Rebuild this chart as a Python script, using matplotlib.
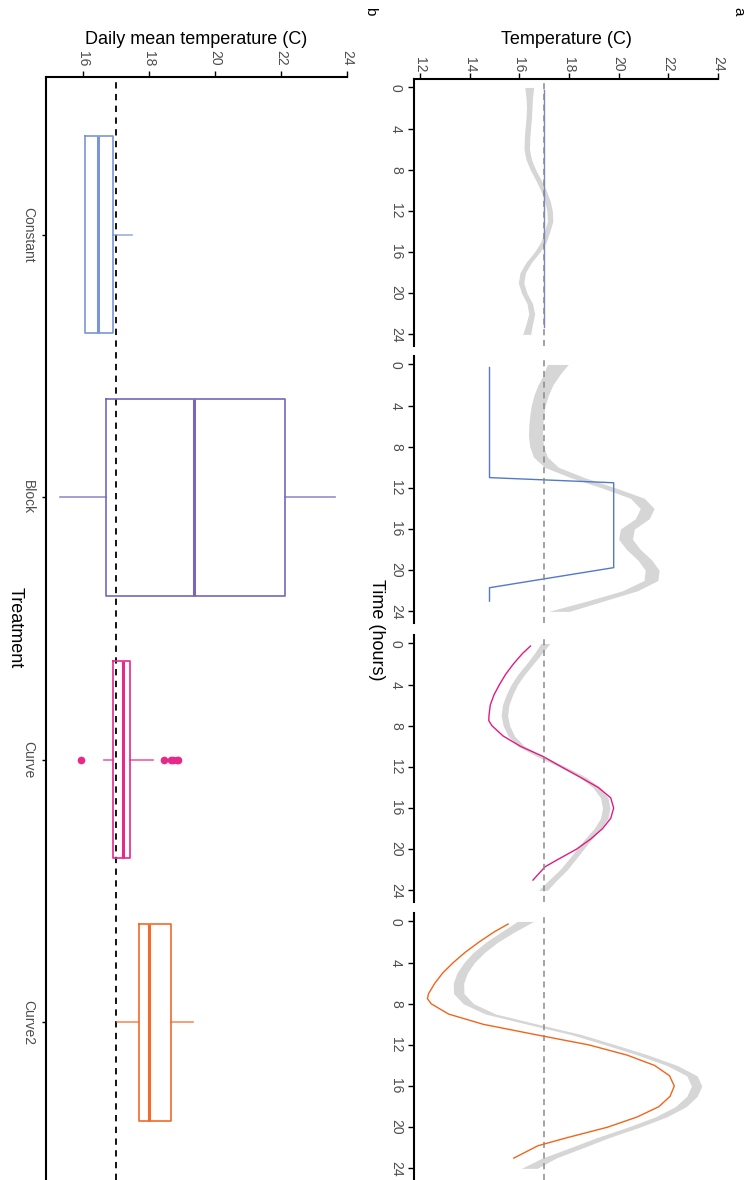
import numpy as np
import matplotlib
matplotlib.use("Agg")
import matplotlib.pyplot as plt

plt.rcParams['font.family'] = ['Liberation Sans', 'DejaVu Sans']

# ---- panel a : hourly temperature profiles ----
hours = [0, 1, 2, 3, 4, 5, 6, 7, 8, 9, 10, 11, 12, 13, 14, 15, 16, 17, 18, 19, 20, 21, 22, 23, 24]

# grey ribbons (observed stream temperature), lower / upper edge
const_lo = [16.22, 16.27, 16.29, 16.27, 16.23, 16.20, 16.19, 16.27, 16.44, 16.66, 16.86, 17.02, 17.11,
            17.13, 17.01, 16.87, 16.61, 16.27, 16.03, 15.96, 16.09, 16.31, 16.38, 16.27, 16.14]
const_hi = [16.58, 16.53, 16.51, 16.49, 16.45, 16.42, 16.41, 16.49, 16.66, 16.88, 17.08, 17.24, 17.33,
            17.35, 17.23, 17.09, 16.83, 16.49, 16.25, 16.18, 16.31, 16.53, 16.62, 16.53, 16.46]
block_lo = [17.13, 16.97, 16.75, 16.59, 16.48, 16.42, 16.38, 16.37, 16.42, 16.57, 17.02, 18.07, 19.32,
            20.47, 20.87, 20.67, 20.07, 20.00, 20.32, 20.77, 21.07, 21.02, 20.15, 18.72, 17.18]
block_hi = [17.97, 17.63, 17.35, 17.17, 17.04, 16.98, 16.94, 16.93, 16.98, 17.13, 17.58, 18.63, 19.88,
            21.03, 21.43, 21.23, 20.63, 20.56, 20.88, 21.33, 21.63, 21.58, 20.75, 19.38, 18.02]
curve_lo = [16.87, 16.60, 16.28, 15.94, 15.67, 15.47, 15.32, 15.27, 15.35, 15.55, 15.95, 16.72, 17.62,
            18.42, 18.96, 19.27, 19.35, 19.27, 19.01, 18.64, 18.31, 17.98, 17.63, 17.19, 16.77]
curve_hi = [17.23, 16.90, 16.56, 16.22, 15.93, 15.73, 15.58, 15.53, 15.61, 15.81, 16.21, 16.98, 17.88,
            18.68, 19.24, 19.57, 19.65, 19.57, 19.29, 18.92, 18.59, 18.26, 17.93, 17.51, 17.13]
curve2_lo = [15.92, 15.28, 14.66, 14.15, 13.77, 13.49, 13.34, 13.35, 13.74, 14.64, 16.34, 18.09, 19.47,
             20.79, 21.94, 22.74, 22.93, 22.74, 22.28, 21.47, 20.36, 19.13, 18.04, 16.92, 16.08]
curve2_hi = [16.58, 15.82, 15.14, 14.61, 14.19, 13.91, 13.76, 13.77, 14.16, 15.06, 16.76, 18.51, 19.89,
             21.21, 22.36, 23.16, 23.35, 23.16, 22.72, 21.93, 20.84, 19.63, 18.56, 17.48, 16.72]

# treatment set-points
const_t = [0.25, 23.3]
const_v = [17.0, 17.0]
block_t = [0.3, 11.0, 11.5, 19.75, 21.7, 23.0]
block_v = [14.8, 14.8, 19.8, 19.8, 14.8, 14.8]
curve_t = [0.25, 1, 2, 3, 4, 5, 6, 7, 7.5, 8, 9, 10, 11, 12, 13, 14, 15, 16, 17, 18, 19, 20, 21, 21.7, 23]
curve_v = [16.45, 16.12, 15.76, 15.45, 15.20, 14.98, 14.83, 14.78, 14.77, 14.90, 15.35, 16.05, 16.97,
           17.70, 18.45, 19.18, 19.68, 19.80, 19.68, 19.35, 18.88, 18.30, 17.55, 17.04, 16.55]
curve2_t = [0.25, 1, 2, 3, 4, 5, 6, 7, 7.5, 8, 9, 10, 11, 12, 13, 14, 15, 16, 17, 18, 19, 20, 21, 21.8, 23]
curve2_v = [15.55, 15.00, 14.38, 13.82, 13.34, 12.92, 12.60, 12.35, 12.30, 12.45, 13.15, 14.55, 16.65,
            18.80, 20.35, 21.45, 22.05, 22.24, 22.07, 21.62, 20.75, 19.55, 17.95, 16.75, 15.78]

target = 17.0

# ---- panel b : daily mean temperature by treatment ----
treatments = ["Constant", "Block", "Curve", "Curve2"]
q1 = [16.05, 16.69, 16.91, 17.70]
med = [16.44, 19.35, 17.21, 18.00]
q3 = [16.91, 22.13, 17.43, 18.67]
whislo = [16.05, 15.29, 16.63, 17.01]
whishi = [17.49, 23.64, 18.13, 19.32]
fliers = [[], [], [15.92, 18.46, 18.66, 18.73, 18.84, 18.88], []]

line_cols = ["#7b86d6", "#5577cc", "#e31a84", "#f26419"]
box_cols = ["#7b96d6", "#7467bd", "#e7298a", "#f26b28"]

W, H = 754, 1180


def rect(x0, y0, x1, y1):
    return [x0 / W, 1 - y1 / H, (x1 - x0) / W, (y1 - y0) / H]


fig = plt.figure(figsize=(W / 100, H / 100), dpi=100)
tick_col = "#4d4d4d"

ribbons = [(const_lo, const_hi), (block_lo, block_hi), (curve_lo, curve_hi), (curve2_lo, curve2_hi)]
lines = [(const_t, const_v), (block_t, block_v), (curve_t, curve_v), (curve2_t, curve2_v)]
tops = [79, 356, 635, 913]

for i in range(4):
    ax = fig.add_axes(rect(414, tops[i], 718, tops[i] + 267))
    lo, hi = ribbons[i]
    ax.fill_betweenx(hours, lo, hi, color="#d6d6d6", lw=0, zorder=1)
    tt, vv = lines[i]
    ax.plot(vv, tt, color=line_cols[i], lw=1.0, zorder=2)
    ax.axvline(target, color="#8a8a8a", lw=1.1, ls=(0, (4, 3)), zorder=3)
    ax.set_xlim(11.76, 24.0)
    ax.set_ylim(25.13, -0.82)
    for s in ["right", "bottom"]:
        ax.spines[s].set_visible(False)
    ax.spines["left"].set_linewidth(1.5)
    ax.set_yticks([0, 4, 8, 12, 16, 20, 24])
    ax.tick_params(axis="y", direction="out", length=4, width=1, pad=4,
                   labelsize=10, labelcolor=tick_col, labelrotation=-90)
    for lab in ax.get_yticklabels():
        lab.set_va("center")
    if i == 0:
        ax.xaxis.tick_top()
        ax.spines["top"].set_linewidth(1.5)
        ax.set_xticks([12, 14, 16, 18, 20, 22, 24])
        ax.tick_params(axis="x", direction="out", length=4, width=1, pad=1,
                       labelsize=10, labelcolor=tick_col, labelrotation=-90)
    else:
        ax.spines["top"].set_visible(False)
        ax.set_xticks([])

# panel b
axb = fig.add_axes(rect(46, 77, 347, 1180))
for i in range(4):
    st = dict(med=med[i], q1=q1[i], q3=q3[i], whislo=whislo[i], whishi=whishi[i],
              fliers=fliers[i], label=treatments[i])
    c = box_cols[i]
    axb.bxp([st], positions=[i + 1], widths=0.75, orientation="horizontal",
            showcaps=False,
            boxprops=dict(color=c, lw=1.2),
            medianprops=dict(color=c, lw=2.2),
            whiskerprops=dict(color=c, lw=1.2, alpha=0.75),
            flierprops=dict(marker="o", markerfacecolor=c, markeredgecolor=c, markersize=4.5))
axb.axvline(target, color="black", lw=1.3, ls=(0, (3.5, 3)), zorder=0)
axb.set_xlim(14.87, 24.0)
axb.set_ylim(4.6, 0.4)
axb.xaxis.tick_top()
axb.set_xticks([16, 18, 20, 22, 24])
axb.set_yticks([1, 2, 3, 4])
axb.set_yticklabels(treatments)
for s in ["right", "bottom"]:
    axb.spines[s].set_visible(False)
axb.spines["left"].set_linewidth(1.5)
axb.spines["top"].set_linewidth(1.5)
axb.tick_params(axis="x", direction="out", length=4, width=1, pad=4,
                labelsize=10, labelcolor=tick_col, labelrotation=-90)
axb.tick_params(axis="y", direction="out", length=3, width=1, pad=5,
                labelsize=10, labelcolor=tick_col, labelrotation=-90)
for lab in axb.get_yticklabels():
    lab.set_va("center")

# titles
fig.text(566 / W, 1 - 40 / H, "Temperature (C)", ha="center", va="center", fontsize=13)
fig.text(196 / W, 1 - 40 / H, "Daily mean temperature (C)", ha="center", va="center", fontsize=13)
fig.text(377 / W, 1 - 630 / H, "Time (hours)", ha="center", va="center", fontsize=13, rotation=-90)
fig.text(15 / W, 1 - 628 / H, "Treatment", ha="center", va="center", fontsize=13, rotation=-90)
fig.text(738 / W, 1 - 11 / H, "a", ha="center", va="center", fontsize=11, rotation=-90)
fig.text(370 / W, 1 - 11 / H, "b", ha="center", va="center", fontsize=11, rotation=-90)

fig.savefig("out.png", dpi=100)
